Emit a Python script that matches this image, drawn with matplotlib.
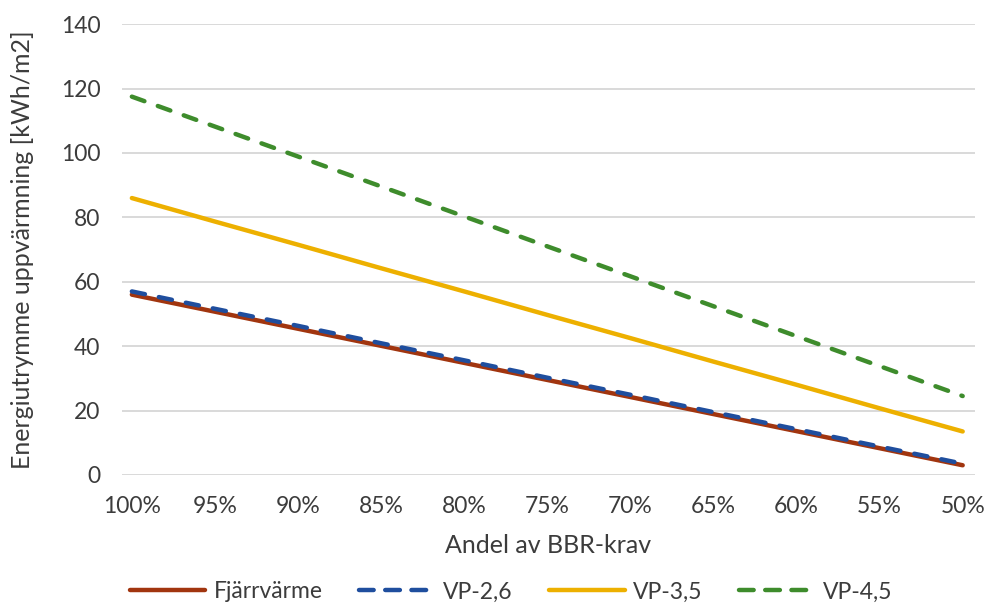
import matplotlib
matplotlib.use("Agg")
import matplotlib.pyplot as plt
from matplotlib.lines import Line2D

categories = ["100%", "95%", "90%", "85%", "80%", "75%", "70%", "65%", "60%", "55%", "50%"]
fjarrvarme = [56.0, 50.7, 45.4, 40.1, 34.8, 29.5, 24.2, 18.9, 13.6, 8.3, 3.0]
vp26 = [57.0, 51.6, 46.3, 40.9, 35.6, 30.2, 24.9, 19.5, 14.2, 8.8, 3.5]
vp35 = [86.0, 78.7, 71.5, 64.2, 57.0, 49.7, 42.5, 35.2, 28.0, 20.7, 13.5]
vp45 = [117.5, 108.2, 98.9, 89.6, 80.3, 71.0, 61.7, 52.4, 43.1, 33.8, 24.5]
yticks = [0, 20, 40, 60, 80, 100, 120, 140]
series_names = ["Fjärrvärme", "VP-2,6", "VP-3,5", "VP-4,5"]

plt.rcParams['font.family'] = ['Lato', 'DejaVu Sans']

fig = plt.figure(figsize=(9.91, 6.05), dpi=100)
ax = fig.add_axes([0.123, 0.215, 0.861, 0.745])

x = list(range(len(categories)))
c_fj = "#A1350F"
c_26 = "#1F4E9E"
c_35 = "#EDB000"
c_45 = "#3E8C2C"
lw = 3.2
txt = '#3C3C3C'

ax.plot(x, fjarrvarme, color=c_fj, lw=lw, solid_capstyle='round', zorder=3)
ax.plot(x, vp26, color=c_26, lw=lw, dashes=(3.0, 3.2), dash_capstyle='round', zorder=4)
ax.plot(x, vp35, color=c_35, lw=lw, solid_capstyle='round', zorder=3)
ax.plot(x, vp45, color=c_45, lw=lw, dashes=(3.0, 3.2), dash_capstyle='round', zorder=3)

ax.set_ylim(0, 140)
ax.set_xlim(-0.12, 10.15)
ax.set_yticks(yticks)
ax.set_xticks(x)
ax.set_xticklabels(categories)
ax.grid(axis='y', color='#D9D9D9', lw=1.4)
ax.set_axisbelow(True)
for s in ax.spines.values():
    s.set_visible(False)
ax.tick_params(axis='both', length=0, labelsize=16.5, colors=txt)
ax.tick_params(axis='y', pad=15.5)
ax.tick_params(axis='x', pad=15)

ax.set_xlabel("Andel av BBR-krav", fontsize=18, color=txt)
ax.xaxis.label.set_va('center')
ax.xaxis.set_label_coords(0.5, -0.157)
ax.set_ylabel("Energiutrymme uppvärmning [kWh/m2]", fontsize=18, color=txt)
ax.yaxis.label.set_rotation_mode('default')
ax.yaxis.label.set_va('center')
ax.yaxis.label.set_ha('center')
ax.yaxis.set_label_coords(-0.116, 0.5)

handles = [
    Line2D([], [], color=c_fj, lw=lw, solid_capstyle='round'),
    Line2D([], [], color=c_26, lw=lw, dashes=(3.3, 2.6), dash_capstyle='round'),
    Line2D([], [], color=c_35, lw=lw, solid_capstyle='round'),
    Line2D([], [], color=c_45, lw=lw, dashes=(3.3, 2.6), dash_capstyle='round'),
]
fig.legend(handles, series_names, loc='center',
           bbox_to_anchor=(0.5156, 0.0215), ncol=4, frameon=False, fontsize=16.5,
           handlelength=3.3, handletextpad=0.35, columnspacing=1.6, labelcolor=txt,
           borderpad=0, borderaxespad=0)

fig.savefig("out.png", dpi=100)
